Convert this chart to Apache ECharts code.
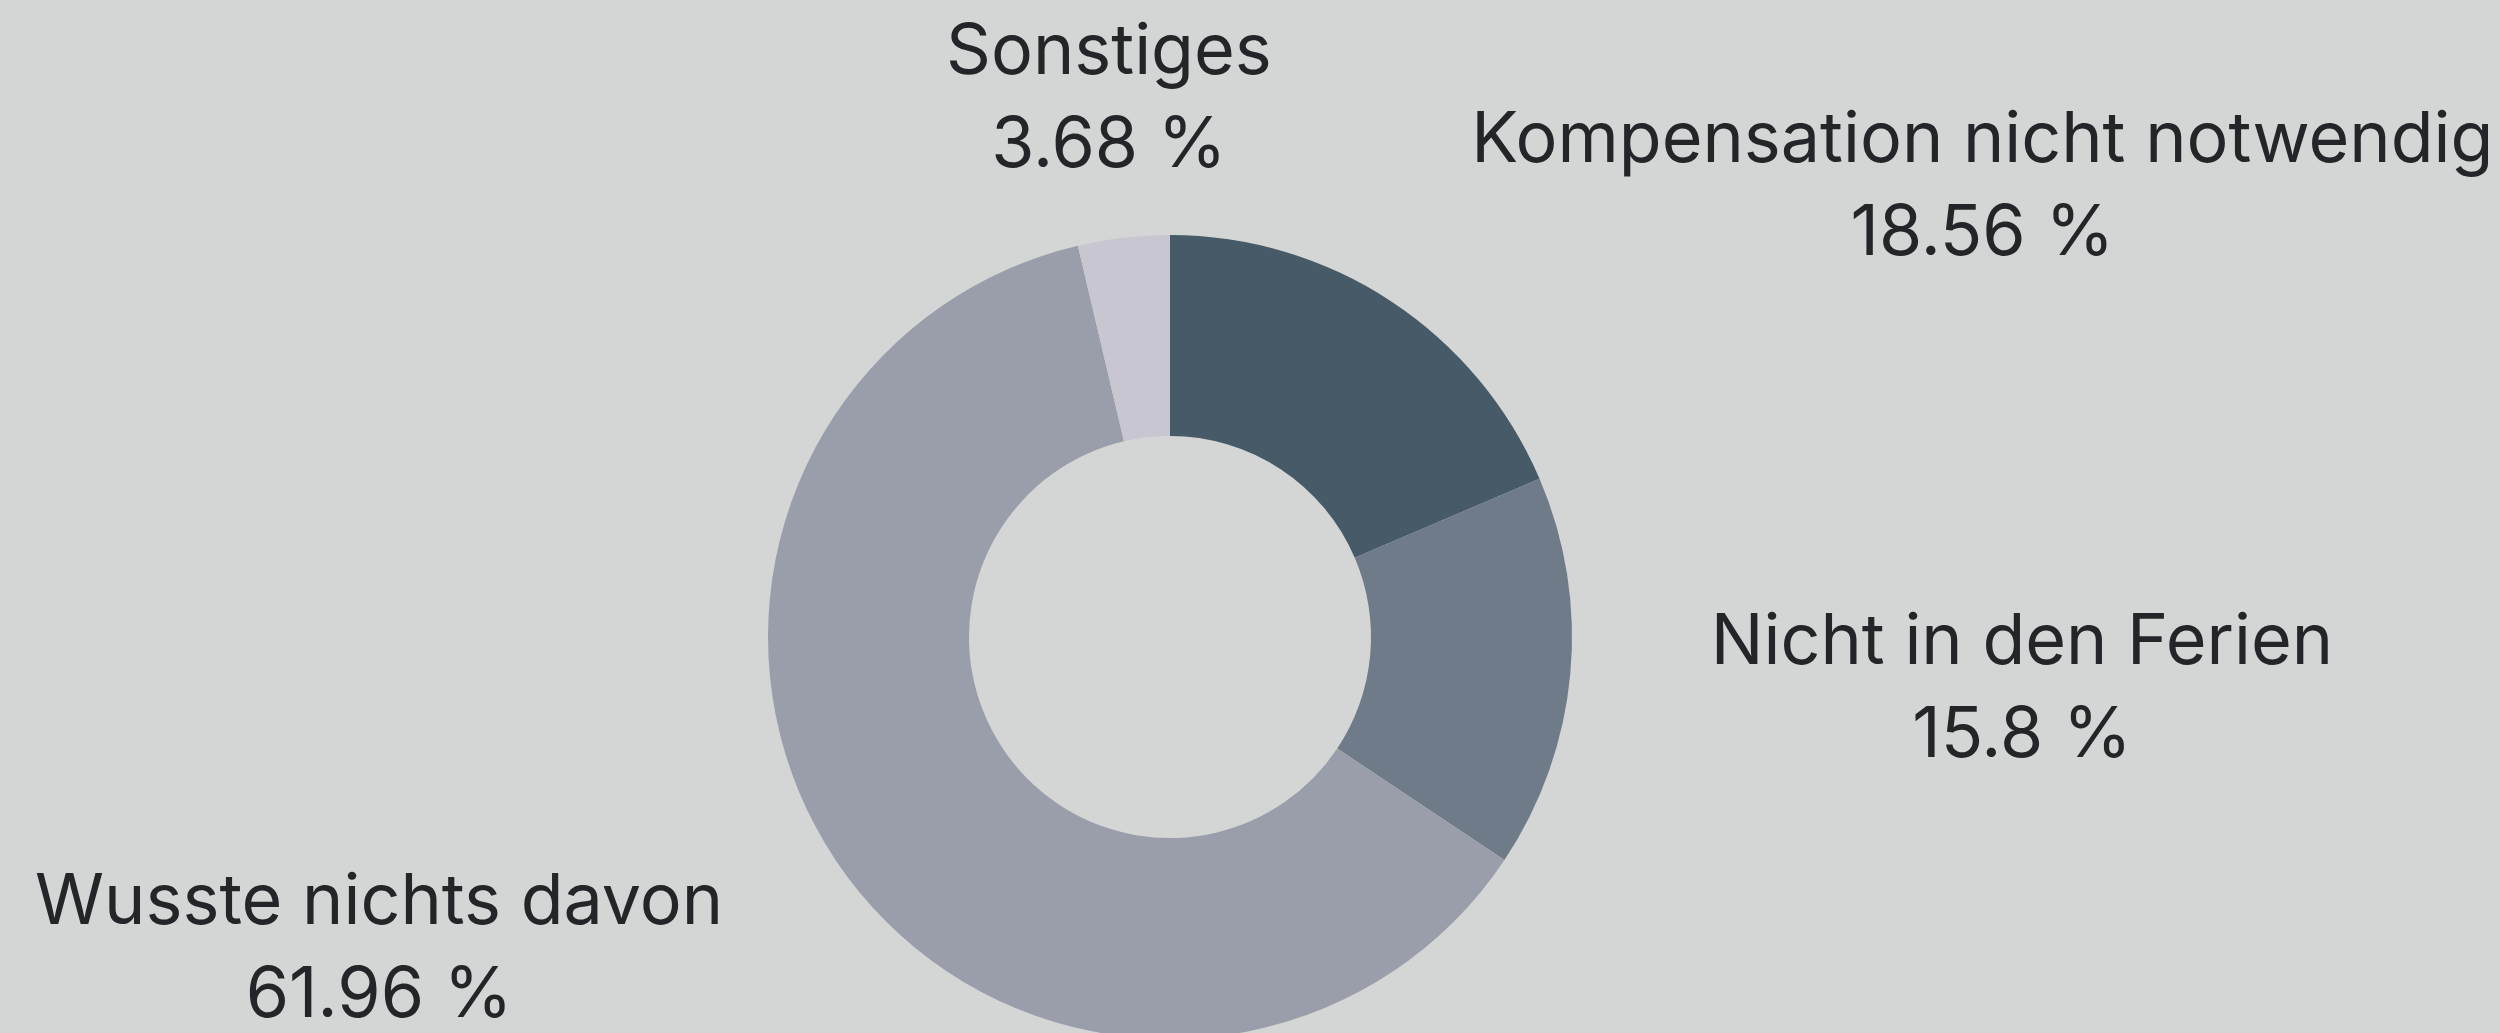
<!DOCTYPE html>
<html>
<head>
<meta charset="utf-8">
<script src="https://cdn.jsdelivr.net/npm/echarts@6/dist/echarts.min.js"></script>
<style>
html,body{margin:0;padding:0;background:#d4d6d5;}
#chart{width:2500px;height:1033px;}
</style>
</head>
<body>
<div id="chart"></div>
<script>
const categories = ['Kompensation nicht notwendig', 'Nicht in den Ferien', 'Wusste nichts davon', 'Sonstiges'];
const values = [18.56, 15.8, 61.96, 3.68];
const colors = ['#475a68', '#6f7b88', '#9a9eab', '#c8c6d1'];

const chart = echarts.init(document.getElementById('chart'));
const option = {
  backgroundColor: '#d4d6d5',
  animation: false,
  series: [{
    type: 'pie',
    center: [1170, 637],
    radius: [201, 402],
    startAngle: 90,
    clockwise: true,
    avoidLabelOverlap: false,
    data: categories.map((c, i) => ({ name: c, value: values[i], itemStyle: { color: colors[i] } })),
    label: {
      show: true,
      position: 'outside',
      overflow: 'none',
      distanceToLabelLine: 5,
      formatter: '{t|{b}}\n{t|{c} %}',
      rich: {
        t: { fontFamily: 'Inter', fontSize: 70, lineHeight: 93, color: '#232629', align: 'center' }
      }
    },
    labelLine: { show: false, length: 136, length2: 0 },
    labelLayout: function (p) {
      if (p.dataIndex === 3) return { align: 'center', dx: 6, dy: -3 };
      if (p.dataIndex === 2) return { dy: 6 };
      if (p.dataIndex === 1) return { dy: 3 };
      return {};
    },
    emphasis: { disabled: true }
  }]
};
chart.setOption(option);
</script>
</body>
</html>
